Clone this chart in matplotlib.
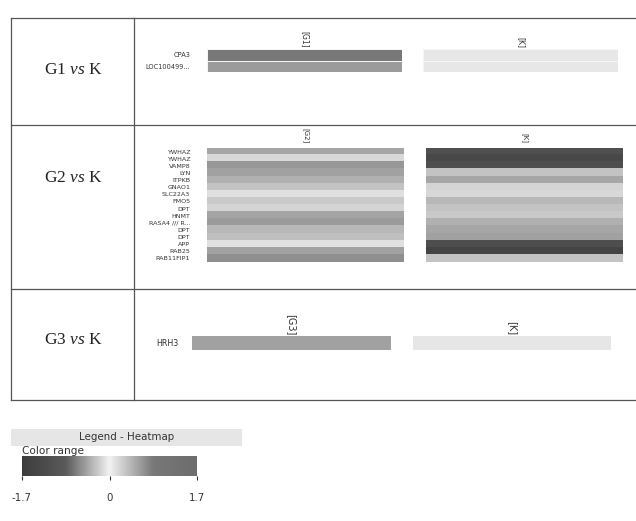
import numpy as np
import matplotlib
matplotlib.use("Agg")
import matplotlib.pyplot as plt
from matplotlib.colors import LinearSegmentedColormap, Normalize
from matplotlib.cm import ScalarMappable

W, H = 636, 521

# comparison panels
comparisons = ["G1", "G2", "G3"]

g1_genes = ["CPA3", "LOC100499..."]
g1_group = [0.85, 0.61]
g1_k = [0.07, 0.07]

g2_genes = ["YWHAZ", "YWHAZ", "VAMP8", "LYN", "ITPKB", "GNAO1", "SLC22A3", "FMO5",
            "DPT", "HNMT", "RASA4 /// R...", "DPT", "DPT", "APP", "RAB25", "RAB11FIP1"]
g2_group = [0.52, 0.18, 0.63, 0.57, 0.46, 0.32, 0.13, 0.29,
            0.21, 0.54, 0.60, 0.40, 0.35, 0.13, 0.57, 0.68]
g2_k = [-1.13, -1.36, -1.19, 0.32, 0.52, 0.21, 0.18, 0.40,
        0.32, 0.29, 0.46, 0.52, 0.57, -1.19, -1.47, 0.32]

g3_genes = ["HRH3"]
g3_group = [0.57]
g3_k = [0.08]

vmin, vmax = -1.7, 1.7
legend_ticks = [-1.7, 0, 1.7]

cmap = LinearSegmentedColormap.from_list(
    "grey_heat",
    [(0.0, "#3c3c3c"), (0.25, "#5a5a5a"), (0.5, "#f2f2f2"), (0.75, "#787878"), (1.0, "#6c6c6c")])

plt.rcParams["mathtext.fontset"] = "custom"
plt.rcParams["mathtext.rm"] = "Liberation Serif"
plt.rcParams["mathtext.it"] = "Liberation Serif:italic"


def box(x0, y0, x1, y1):
    return [x0 / W, 1 - y1 / H, (x1 - x0) / W, (y1 - y0) / H]


def block(fig, rect, vals, label, label_size, genes=None, gene_size=5, lw=0.4):
    ax = fig.add_axes(box(*rect))
    if lw > 0:
        ax.pcolormesh(np.array(vals)[:, None], cmap=cmap, vmin=vmin, vmax=vmax,
                      edgecolors="#f6f6f6", linewidth=lw)
    else:
        ax.pcolormesh(np.array(vals)[:, None], cmap=cmap, vmin=vmin, vmax=vmax,
                      edgecolors="face", linewidth=0.3, antialiased=False)
    ax.set_ylim(len(vals), 0)
    ax.set_xlim(0, 1)
    for s in ax.spines.values():
        s.set_visible(False)
    ax.set_xticks([])
    if genes:
        ax.set_yticks(np.arange(len(vals)) + 0.5)
        ax.set_yticklabels(genes, fontsize=gene_size, color="#333333")
        ax.tick_params(axis="y", length=0, pad=12 if rect[0] > 200 else 10)
    else:
        ax.set_yticks([])
    ax.text(0.5, 1.04, label, transform=ax.transAxes, rotation=270,
            ha="center", va="bottom", fontsize=label_size, color="#333333")
    return ax


fig = plt.figure(figsize=(W / 100, H / 100), dpi=100)
ax0 = fig.add_axes([0, 0, 1, 1])
ax0.set_xlim(0, W)
ax0.set_ylim(H, 0)
ax0.axis("off")

# table grid
line_kw = dict(color="#555555", lw=0.9)
for y in [18, 125, 289, 400]:
    ax0.plot([11, W], [y, y], **line_kw)
ax0.plot([11, 11], [18, 400], **line_kw)
ax0.plot([134, 134], [18, 400], **line_kw)

for name, yc in zip(comparisons, [70, 178, 340]):
    ax0.text(73, yc, name + r" $\it{vs}$ K", ha="center", va="center",
             fontsize=12.5, family="Liberation Serif", color="#222222")

# G1 vs K
block(fig, (207, 49, 402, 72), g1_group, "[G1]", 5.5, g1_genes, 4.8, lw=0.5)
block(fig, (423, 49, 618, 72), g1_k, "[K]", 5.5, lw=0.5)

# G2 vs K
block(fig, (207, 148, 404, 262), g2_group, "[G2]", 5, g2_genes, 4.6, lw=0)
block(fig, (426, 148, 623, 262), g2_k, "[K]", 5, lw=0)

# G3 vs K
block(fig, (192, 336, 391, 350), g3_group, "[G3]", 7, g3_genes, 5.8, lw=0)
block(fig, (413, 336, 611, 350), g3_k, "[K]", 7, lw=0)

# legend
ax0.add_patch(plt.Rectangle((11, 429), 231, 17, color="#e6e6e6", lw=0))
ax0.text(127, 437.5, "Legend - Heatmap", ha="center", va="center", fontsize=7.4, color="#333333")
ax0.text(22, 451, "Color range", ha="left", va="center", fontsize=7.6, color="#333333")

cax = fig.add_axes(box(22, 456, 197, 476))
cb = fig.colorbar(ScalarMappable(norm=Normalize(vmin, vmax), cmap=cmap), cax=cax,
                  orientation="horizontal", ticks=legend_ticks)
cb.outline.set_visible(False)
cb.ax.set_xticklabels(["-1.7", "0", "1.7"])
cb.ax.tick_params(length=3, width=0.8, pad=9, labelsize=7.4, colors="#333333")

fig.savefig("out.png", dpi=100)
